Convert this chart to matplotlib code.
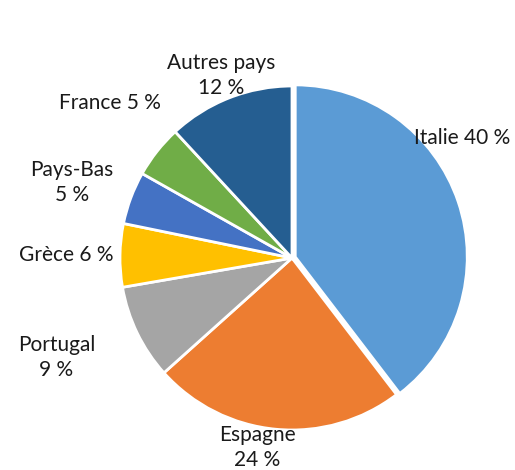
import matplotlib
matplotlib.use("Agg")
import matplotlib.pyplot as plt

countries = ["Italie", "Espagne", "Portugal", "Grèce", "Pays-Bas", "France", "Autres pays"]
shares = [40, 24, 9, 6, 5, 5, 12]
colors = ["#5B9BD5", "#ED7D31", "#A5A5A5", "#FFC000", "#4472C4", "#70AD47", "#255E91"]
label_texts = ["Italie 40 %", "Espagne\n24 %", "Portugal\n9 %", "Grèce 6 %", "Pays-Bas\n5 %", "France 5 %", "Autres pays\n12 %"]
label_pos = [(0.99, 0.70), (-0.20, -1.10), (-1.37, -0.58), (-1.31, 0.02), (-1.28, 0.44), (-1.06, 0.90), (-0.41, 1.06)]

plt.rcParams['font.family'] = ['Lato', 'DejaVu Sans']

fig = plt.figure(figsize=(5.15, 4.70), dpi=100)
ax = fig.add_axes([0, 0, 1, 1])
R = 172.0
ax.pie(shares, colors=colors, startangle=90, counterclock=False,
       explode=[0.02, 0, 0, 0, 0, 0, 0], radius=1.0,
       wedgeprops=dict(edgecolor="white", linewidth=2))
for t, (x, y) in zip(label_texts, label_pos):
    ax.text(x, y, t, ha="center", va="center", fontsize=15, color="#1a1a1a", linespacing=1.3)
ax.set_xlim(-292 / R, (515 - 292) / R)
ax.set_ylim(-(470 - 258) / R, 258 / R)
ax.set_aspect("auto")
ax.axis("off")
fig.savefig("out.png", dpi=100)
